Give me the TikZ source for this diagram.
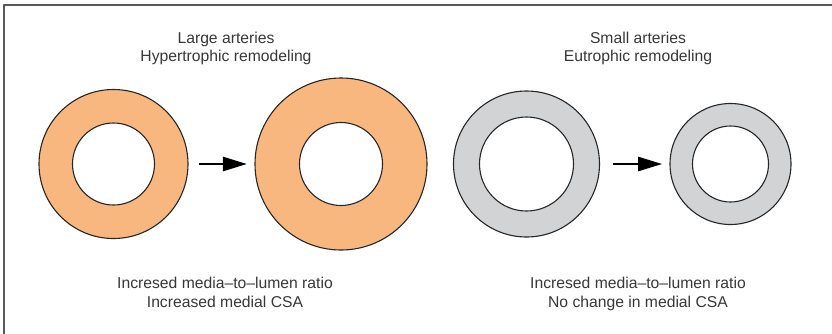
\documentclass[tikz,border=0pt]{standalone}
\usepackage{fontspec}
\setmainfont{Liberation Sans}
\usetikzlibrary{arrows.meta}
\definecolor{wallorange}{RGB}{249,183,128}
\definecolor{wallgray}{RGB}{209,211,212}
\definecolor{inkgray}{RGB}{55,55,55}
\begin{document}
\begin{tikzpicture}[x=1pt, y=-1pt, font=\fontsize{15.7}{18.5}\selectfont, line join=round,
		wall/.style={circle, draw=black!85, line width=1.1pt, inner sep=0pt},
		lumen/.style={wall, fill=white},
		caption/.style={align=center, text=inkgray},
		flow/.style={-{Triangle[length=24pt,width=14pt]}, line width=2.6pt},
		>=stealth]
	\useasboundingbox (0,0) rectangle (832,333);
	\draw[black!65, line width=1.3pt] (4,345)--(4,5)--(845,5);
	% large arteries, hypertrophic
	\node[wall, fill=wallorange, minimum size=149pt] (la1) at (113.5,164) {};
	\node[lumen, minimum size=82pt] (lu1) at (la1) {};
	\node[wall, fill=wallorange, minimum size=172pt] (la2) at (341,164) {};
	\node[lumen, minimum size=83pt] (lu2) at (la2) {};
	\draw[flow, shorten <=10.5pt, shorten >=7.5pt] (la1.east)--(la2.west);
	% small arteries, eutrophic
	\node[wall, fill=wallgray, minimum size=146pt] (sa1) at (526.5,164) {};
	\node[lumen, minimum size=94pt] (su1) at (sa1) {};
	\node[wall, fill=wallgray, minimum size=121pt] (sa2) at (730.5,164) {};
	\node[lumen, minimum size=76pt] (su2) at (sa2) {};
	\draw[flow, shorten <=12.7pt, shorten >=7.3pt] (sa1.east)--(sa2.west);
	% captions
	\node[caption] (lt) at (226,48.5) {Large arteries\\Hypertrophic remodeling};
	\node[caption] (st) at (638,48.5) {Small arteries\\Eutrophic remodeling};
	\node[caption] (lb) at (225,292.5) {Incresed media–to–lumen ratio\\Increased medial CSA};
	\node[caption] (sb) at (638,294) {Incresed media–to–lumen ratio\\No change in medial CSA};
\end{tikzpicture}
\end{document}
